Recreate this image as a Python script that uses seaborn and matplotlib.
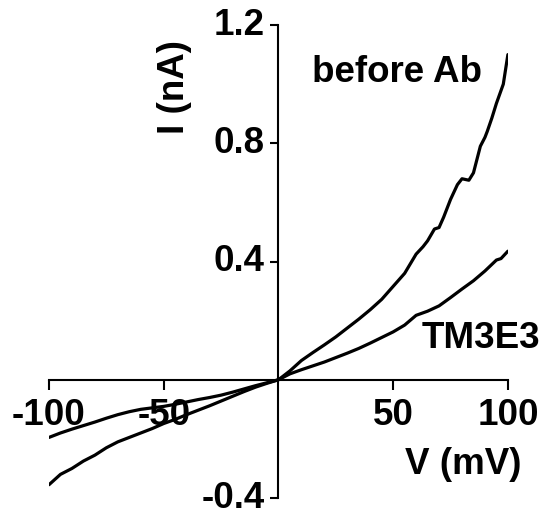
import pandas as pd
import matplotlib
matplotlib.use("Agg")
import matplotlib.pyplot as plt
import seaborn as sns

# I-V traces (V in mV, I in nA)
v_before = [-100, -95, -90, -85, -80, -75, -70, -65, -60, -55, -50, -45, -40, -35,
            -30, -25, -20, -15, -10, -5, 0, 5, 10, 15, 20, 25, 30, 35, 40, 45, 50,
            55, 60, 63, 65, 68, 70, 72, 75, 78, 80, 83, 85, 88, 90, 91, 93, 95, 98,
            99, 100]
i_before = [-0.355, -0.32, -0.30, -0.275, -0.255, -0.23, -0.21, -0.195, -0.18, -0.165,
            -0.148, -0.134, -0.118, -0.103, -0.088, -0.072, -0.056, -0.040, -0.025,
            -0.012, 0.0, 0.03, 0.065, 0.092, 0.118, 0.145, 0.175, 0.205, 0.237, 0.272,
            0.316, 0.36, 0.425, 0.45, 0.47, 0.51, 0.515, 0.55, 0.61, 0.66, 0.68, 0.675,
            0.70, 0.79, 0.82, 0.84, 0.885, 0.935, 1.0, 1.05, 1.10]

v_tm3e3 = [-100, -95, -90, -85, -80, -75, -70, -65, -60, -55, -50, -45, -40, -35,
           -30, -25, -20, -15, -10, -5, 0, 5, 10, 15, 20, 25, 30, 35, 40, 45, 50,
           55, 60, 65, 70, 75, 80, 85, 90, 95, 97, 100]
i_tm3e3 = [-0.195, -0.18, -0.167, -0.155, -0.143, -0.13, -0.118, -0.108, -0.10, -0.095,
           -0.09, -0.083, -0.075, -0.067, -0.06, -0.052, -0.042, -0.031, -0.02, -0.01,
           0.0, 0.02, 0.034, 0.047, 0.06, 0.075, 0.09, 0.106, 0.124, 0.143, 0.162,
           0.185, 0.218, 0.232, 0.25, 0.278, 0.307, 0.335, 0.368, 0.405, 0.41, 0.435]

x_ticks = [-100, -50, 50, 100]
y_ticks = [-0.4, 0.4, 0.8, 1.2]
y_ticklabels = ["-0.4", "0.4", "0.8", "1.2"]

before = pd.DataFrame({"V": v_before, "I": i_before})
tm3e3 = pd.DataFrame({"V": v_tm3e3, "I": i_tm3e3})

sns.set_style("ticks")
plt.rcParams["font.family"] = ["Liberation Sans", "DejaVu Sans"]
plt.rcParams["font.weight"] = "bold"
plt.rcParams["text.color"] = "black"
plt.rcParams["axes.labelcolor"] = "black"
plt.rcParams["xtick.color"] = "black"
plt.rcParams["ytick.color"] = "black"

FS = 26.5

fig = plt.figure(figsize=(5.45, 5.13), dpi=100)
ax = fig.add_axes([0.0899, 0.0292, 0.842, 0.922])

sns.lineplot(data=before, x="V", y="I", color="black", linewidth=2.3,
             estimator=None, sort=False, ax=ax)
sns.lineplot(data=tm3e3, x="V", y="I", color="black", linewidth=2.3,
             estimator=None, sort=False, ax=ax)

ax.set_xlim(-100, 100)
ax.set_ylim(-0.4, 1.2)

# axes crossing at the origin
ax.spines["left"].set_position(("data", 0))
ax.spines["bottom"].set_position(("data", 0))
ax.spines["top"].set_visible(False)
ax.spines["right"].set_visible(False)
for s in ["left", "bottom"]:
    ax.spines[s].set_linewidth(1.5)
    ax.spines[s].set_color("black")

ax.set_xticks(x_ticks)
ax.set_xticklabels([str(t) for t in x_ticks])
ax.set_yticks(y_ticks)
ax.set_yticklabels(y_ticklabels)
ax.tick_params(axis="x", direction="out", length=7, width=1.5, pad=6,
               labelsize=FS, colors="black")
ax.tick_params(axis="y", direction="out", length=6, width=1.5, pad=4,
               labelsize=FS, colors="black")
for lab in ax.get_xticklabels() + ax.get_yticklabels():
    lab.set_fontweight("bold")
for lab in ax.get_yticklabels():
    lab.set_verticalalignment("center")

ax.set_xlabel("")
ax.set_ylabel("")
fig.text(463 / 545, 1 - 464 / 513, "V (mV)", fontsize=FS, fontweight="bold",
         ha="center", va="center")
fig.text(175 / 545, 1 - 87 / 513, "I (nA)", fontsize=FS, fontweight="bold",
         ha="center", va="center", rotation=90)

fig.text(397 / 545, 1 - 73 / 513, "before Ab", fontsize=FS, fontweight="bold",
         ha="center", va="center")
fig.text(481 / 545, 1 - 339 / 513, "TM3E3", fontsize=FS, fontweight="bold",
         ha="center", va="center")

fig.savefig("out.png", dpi=100)
plt.close(fig)
